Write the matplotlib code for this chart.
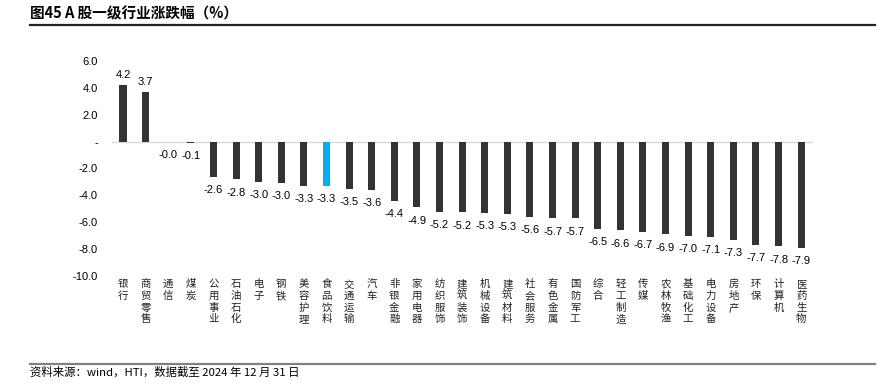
"""
A股一级行业涨跌幅 bar chart (图45).
"""

import matplotlib

matplotlib.use("Agg")
import matplotlib.pyplot as plt
from matplotlib.transforms import blended_transform_factory, offset_copy

plt.rcParams["font.family"] = ["Noto Sans CJK SC", "DejaVu Sans"]

industries = [
    "银行", "商贸零售", "通信", "煤炭", "公用事业", "石油石化", "电子", "钢铁",
    "美容护理", "食品饮料", "交通运输", "汽车", "非银金融", "家用电器", "纺织服饰",
    "建筑装饰", "机械设备", "建筑材料", "社会服务", "有色金属", "国防军工", "综合",
    "轻工制造", "传媒", "农林牧渔", "基础化工", "电力设备", "房地产", "环保",
    "计算机", "医药生物",
]
changes = [
    4.2, 3.7, -0.04, -0.1, -2.6, -2.8, -3.0, -3.05, -3.3, -3.3, -3.5, -3.6, -4.4,
    -4.9, -5.2, -5.25, -5.3, -5.35, -5.6, -5.7, -5.72, -6.5, -6.6, -6.7, -6.9,
    -7.0, -7.1, -7.3, -7.7, -7.8, -7.9,
]
highlight = "食品饮料"
y_ticks = [-10, -8, -6, -4, -2, 0, 2, 4, 6]

DARK = "#333333"
BLUE = "#00B0F0"
NUM_FONT = ["Liberation Sans", "DejaVu Sans"]

W, H = 896, 389
fig = plt.figure(figsize=(W / 100, H / 100), dpi=100)

# header / footer strip axes: their spine serves as the rule
head = fig.add_axes([30 / W, 1 - 25 / H, 845 / W, 24 / H])
head.set_xticks([])
head.set_yticks([])
for name, side in head.spines.items():
    side.set_visible(name == "bottom")
head.spines["bottom"].set_color("#222222")
head.spines["bottom"].set_linewidth(1.6)
head.patch.set_alpha(0)
head.text(0, 0.5, "图45 A 股一级行业涨跌幅（%）", fontsize=10.5,
          fontweight="bold", ha="left", va="center", transform=head.transAxes)

foot = fig.add_axes([30 / W, 1 - 385 / H, 845 / W, 21 / H])
foot.set_xticks([])
foot.set_yticks([])
for name, side in foot.spines.items():
    side.set_visible(name == "top")
foot.spines["top"].set_color("#808080")
foot.spines["top"].set_linewidth(1.6)
foot.patch.set_alpha(0)
foot.text(0, 0.62, "资料来源：wind，HTI，数据截至 2024 年 12 月 31 日",
          fontsize=8.2, ha="left", va="center", transform=foot.transAxes)

# axes box in pixels: x 111.7..812.5, y (from top) 61..276
ax = fig.add_axes([111.7 / W, (H - 276) / H, (812.5 - 111.7) / W, 215 / H])
ax.patch.set_alpha(0)

x = list(range(len(industries)))
colors = [BLUE if name == highlight else DARK for name in industries]
ax.bar(x, changes, width=0.31, color=colors, zorder=3)
ax.axhline(0, color="#d9d9d9", linewidth=1.0, zorder=2)

ax.set_xlim(-0.5, len(industries) - 0.5)
ax.set_ylim(-10, 6)
ax.set_yticks(y_ticks)
ax.set_yticklabels(["-" if t == 0 else f"{t:.1f}" for t in y_ticks],
                   fontfamily=NUM_FONT, fontsize=8)
ax.tick_params(axis="y", length=0, pad=10)
ax.set_xticks([])
for side in ax.spines.values():
    side.set_visible(False)

# value labels
for xi, v in zip(x, changes):
    label = f"{v:.1f}"
    if v >= 0:
        ax.annotate(label, (xi, v), xytext=(0, 3.5), textcoords="offset points",
                    ha="center", va="bottom", fontsize=8, fontfamily=NUM_FONT)
    else:
        ax.annotate(label, (xi, v), xytext=(0, -6), textcoords="offset points",
                    ha="center", va="top", fontsize=8, fontfamily=NUM_FONT)

# vertical category labels, one character per row
trans = blended_transform_factory(ax.transData, ax.transAxes)
for xi, name in zip(x, industries):
    for k, ch in enumerate(name):
        t = offset_copy(trans, fig=fig, x=0, y=-(6 + 8.4 * k), units="points")
        ax.text(xi, 0, ch, transform=t, ha="center", va="center", fontsize=7.5,
                color="#222222")

fig.savefig("out.png", dpi=100)
